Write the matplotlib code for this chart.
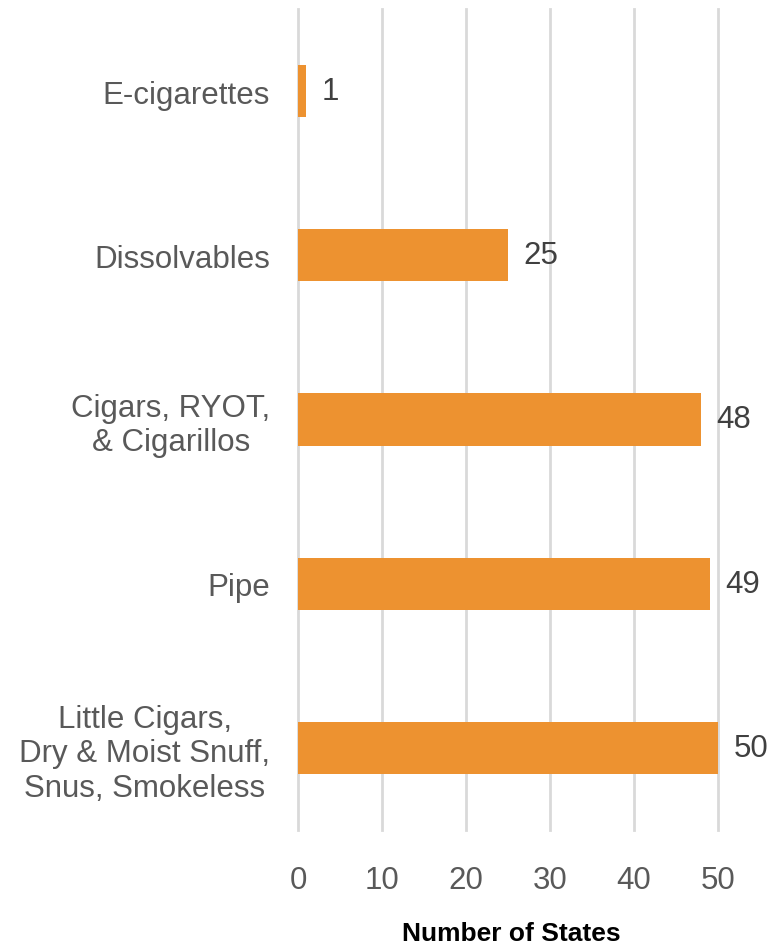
import matplotlib
matplotlib.use("Agg")
import matplotlib.pyplot as plt

plt.rcParams['font.family'] = ['Liberation Sans', 'DejaVu Sans']

# data, top to bottom as shown
categories = ['E-cigarettes', 'Dissolvables', 'Cigars, RYOT,\n& Cigarillos', 'Pipe',
              'Little Cigars,\nDry & Moist Snuff,\nSnus, Smokeless']
values = [1, 25, 48, 49, 50]
xticks = [0, 10, 20, 30, 40, 50]

W, H = 769, 945
fig = plt.figure(figsize=(W / 100, H / 100), dpi=100)
ax = fig.add_axes([298 / W, 1 - 831 / H, (718 - 298) / W, (831 - 10) / H])

pos = list(range(len(categories)))
ax.barh(pos, values, height=0.317, color='#ED9230', zorder=3)
ax.set_ylim(len(categories) - 0.5, -0.5)
ax.set_xlim(0, 50)

for p, v in zip(pos, values):
    ax.annotate(str(v), (v, p), xytext=(11, 0), textcoords='offset points',
                va='center', ha='left', fontsize=22.5, color='#404040')

ax.set_yticks(pos)
ax.set_yticklabels(categories, fontsize=22.5, color='#595959', multialignment='center',
                   linespacing=1.18)
ax.set_xticks(xticks)
ax.set_xticklabels([str(t) for t in xticks], fontsize=22.5, color='#595959')
ax.tick_params(axis='y', length=0, pad=20)
ax.tick_params(axis='x', length=0, pad=25)

ax.grid(axis='x', color='#D9D9D9', linewidth=2, zorder=0)
for gl in ax.get_xgridlines():
    gl.set_clip_on(False)
for s in ax.spines.values():
    s.set_visible(False)

fig.text(511 / W, 1 - 934 / H, 'Number of States', fontsize=19, fontweight='bold',
         color='black', ha='center', va='center')

fig.savefig('out.png', dpi=100)
